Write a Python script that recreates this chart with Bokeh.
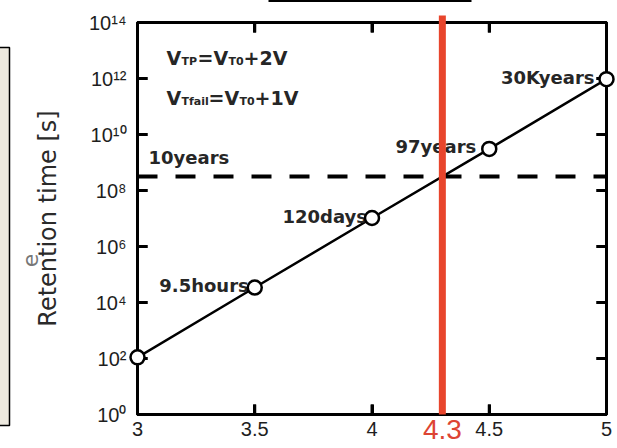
import numpy as np
from bokeh.plotting import figure
from bokeh.models import (Range1d, FixedTicker, LinearAxis, LogAxis, Span, Label,
                          ColumnDataSource)
from bokeh.core.properties import value
from bokeh.embed import file_html
from bokeh.resources import INLINE

# ---------------- data ----------------
gate_voltage = [3.0, 3.5, 4.0, 4.5, 5.0]
retention_s = [1.1e2, 3.42e4, 1.04e7, 3.06e9, 9.47e11]
point_labels = ["", "9.5hours", "120days", "97years", "30Kyears"]
ten_years_s = 3.15e8
ten_years_label = "10years"
marked_voltage = 4.3
x_ticks = [3, 3.5, 4, 4.5, 5]
x_tick_labels = ["3", "3.5", "4", "4.5", "5"]
y_tick_exponents = [0, 2, 4, 6, 8, 10, 12, 14]
y_axis_title = "Retention time [s]"

# ---------------- layout ----------------
W, H = 617, 448
FL, FR, FT, FB = 137, 606, 22, 414
X0, X1 = 3.0, 5.0
D0, D1 = 0, 14
BASE_SHIFT = 0.42  # bokeh's alphabetic baseline sits ~0.42em lower than expected
TICK_LEN = 10
TICK_W = 3
px_per_x = (FR - FL) / (X1 - X0)
px_per_dec = (FB - FT) / (D1 - D0)


def xd(px):
    return X0 + (px - FL) / px_per_x


def yd(py):
    return 10 ** (D0 + (FB - py) / px_per_dec)


SUP = str.maketrans("0123456789-", "⁰¹²³⁴⁵⁶⁷⁸⁹⁻")
y_ticks = [10 ** e for e in y_tick_exponents]
y_tick_labels = {10 ** e: "10" + str(e).translate(SUP) for e in y_tick_exponents}

p = figure(width=W, height=H, output_backend="svg", toolbar_location=None,
           x_range=Range1d(X0, X1), y_range=Range1d(10 ** D0, 10 ** D1),
           y_axis_type="log", x_axis_location=None, y_axis_location=None,
           min_border_left=FL, min_border_right=W - FR,
           min_border_top=FT, min_border_bottom=H - FB)
p.outline_line_color = "black"
p.outline_line_width = 3
p.grid.visible = False
p.background_fill_color = "white"
p.border_fill_color = "white"

TICK_FONT = "Liberation Sans"
ANN_FONT = "DejaVu Sans"


def style_axis(ax, show_labels):
    ax.axis_line_width = 3
    ax.axis_line_color = "black"
    ax.major_tick_in = TICK_LEN
    ax.major_tick_out = 0
    ax.major_tick_line_width = TICK_W
    ax.major_tick_line_color = "black"
    ax.minor_tick_line_color = None
    ax.major_label_text_font = TICK_FONT
    ax.major_label_text_color = "#1e1e1e"
    ax.major_label_text_font_size = "20px" if show_labels else "0px"


top_ax = LinearAxis(ticker=FixedTicker(ticks=x_ticks),
                    major_label_overrides={t: "" for t in x_ticks})
style_axis(top_ax, False)
p.add_layout(top_ax, "above")

right_ax = LogAxis(ticker=FixedTicker(ticks=y_ticks),
                   major_label_overrides={t: "" for t in y_ticks})
style_axis(right_ax, False)
p.add_layout(right_ax, "right")

xax = LinearAxis(ticker=FixedTicker(ticks=x_ticks),
                 major_label_overrides={t: l for t, l in zip(x_ticks, x_tick_labels)})
style_axis(xax, True)
xax.major_label_standoff = 7
p.add_layout(xax, "below")

yax = LogAxis(ticker=FixedTicker(ticks=y_ticks), major_label_overrides=y_tick_labels)
style_axis(yax, True)
yax.major_label_standoff = 11
yax.axis_label = y_axis_title
yax.axis_label_text_font = ANN_FONT
yax.axis_label_text_font_size = "24px"
yax.axis_label_text_font_style = "normal"
yax.axis_label_text_color = "#2a2a2a"
yax.axis_label_standoff = 24
p.add_layout(yax, "left")

# inward tick marks on all four sides, as thin quads placed with the plot scales
inner_x = [t for t in x_ticks if X0 < t < X1]
inner_y = [t for t in y_ticks if 10 ** D0 < t < 10 ** D1]
hw_x = (TICK_W / 2) / px_per_x
hw_y = 10 ** ((TICK_W / 2) / px_per_dec)
nx, ny = len(inner_x), len(inner_y)
tick_style = dict(fill_color="black", line_color=None, level="overlay")
p.quad(left=[t - hw_x for t in inner_x], right=[t + hw_x for t in inner_x],
       bottom=[10 ** D0] * nx, top=[yd(FB - TICK_LEN)] * nx, **tick_style)
p.quad(left=[t - hw_x for t in inner_x], right=[t + hw_x for t in inner_x],
       bottom=[yd(FT + TICK_LEN)] * nx, top=[10 ** D1] * nx, **tick_style)
p.quad(left=[X0] * ny, right=[xd(FL + TICK_LEN)] * ny,
       bottom=[t / hw_y for t in inner_y], top=[t * hw_y for t in inner_y], **tick_style)
p.quad(left=[xd(FR - TICK_LEN)] * ny, right=[X1] * ny,
       bottom=[t / hw_y for t in inner_y], top=[t * hw_y for t in inner_y], **tick_style)

# ---------------- decorations around the crop (unclipped overlay glyphs) ----------------
p.quad(left=[xd(-10)], right=[xd(9)], top=[yd(47)], bottom=[yd(425)],
       fill_color="#EDE9DF", line_color="black", line_width=1.5, level="overlay")
p.quad(left=[xd(268)], right=[xd(471)], top=[yd(-3)], bottom=[yd(1.5)],
       fill_color="black", line_color=None, level="overlay")
p.text(x=[xd(29)], y=[yd(260)], text=["e"], angle=np.pi / 2,
       text_font=value(ANN_FONT), text_font_size="22px", text_color="#777777",
       text_align="center", text_baseline="alphabetic", level="overlay")

# ---------------- data marks ----------------
src = ColumnDataSource(dict(x=gate_voltage, y=retention_s, label=point_labels,
                            dx=[-8, -6, -5, -13, -12]))

p.line("x", "y", source=src, line_color="black", line_width=2.5)

p.text("x", "y", text="label", source=src, x_offset="dx", y_offset=-2,
       text_align="right", text_baseline="alphabetic",
       text_font=value(ANN_FONT), text_font_style="bold", text_font_size="18px",
       text_color="#262626")

p.add_layout(Span(location=ten_years_s, dimension="width", line_color="black",
                  line_width=4, line_dash="20 18"))

p.quad(left=[marked_voltage - 3.5 / px_per_x], right=[marked_voltage + 3.5 / px_per_x],
       top=[yd(15)], bottom=[10 ** D0],
       fill_color="#E8452C", line_color=None, level="overlay")

p.scatter("x", "y", source=src, marker="circle", size=14, fill_color="white",
          line_color="black", line_width=2.5, level="overlay")

# ---------------- texts ----------------
p.text(x=[marked_voltage], y=[yd(441 - BASE_SHIFT * 28)], text=[f"{marked_voltage:g}"],
       text_font=value(TICK_FONT), text_font_size="28px", text_color="#DD4433",
       text_align="center", text_baseline="alphabetic", level="overlay")

p.add_layout(Label(x=xd(148), y=yd(165 - BASE_SHIFT * 18), text=ten_years_label,
                   text_font=ANN_FONT, text_font_style="bold", text_font_size="18px",
                   text_color="#262626", text_baseline="alphabetic"))

eq_pieces = [
    # (text, left px, baseline px, size)
    ("V", 166, 65, 19), ("TP", 181, 69, 11), ("=V", 197, 65, 19),
    ("T0", 228, 69, 11), ("+2V", 243, 65, 19),
    ("V", 166, 105, 19), ("Tfail", 181, 109, 11), ("=V", 208, 105, 19),
    ("T0", 239, 109, 11), ("+1V", 254, 105, 19),
]
for txt, lx, by, fs in eq_pieces:
    p.add_layout(Label(x=xd(lx), y=yd(by - BASE_SHIFT * 19), text=txt, text_font=ANN_FONT,
                       text_font_style="bold", text_font_size=f"{fs}px",
                       text_color="#262626", text_baseline="alphabetic"))

open("out.html", "w").write(file_html(p, INLINE))
